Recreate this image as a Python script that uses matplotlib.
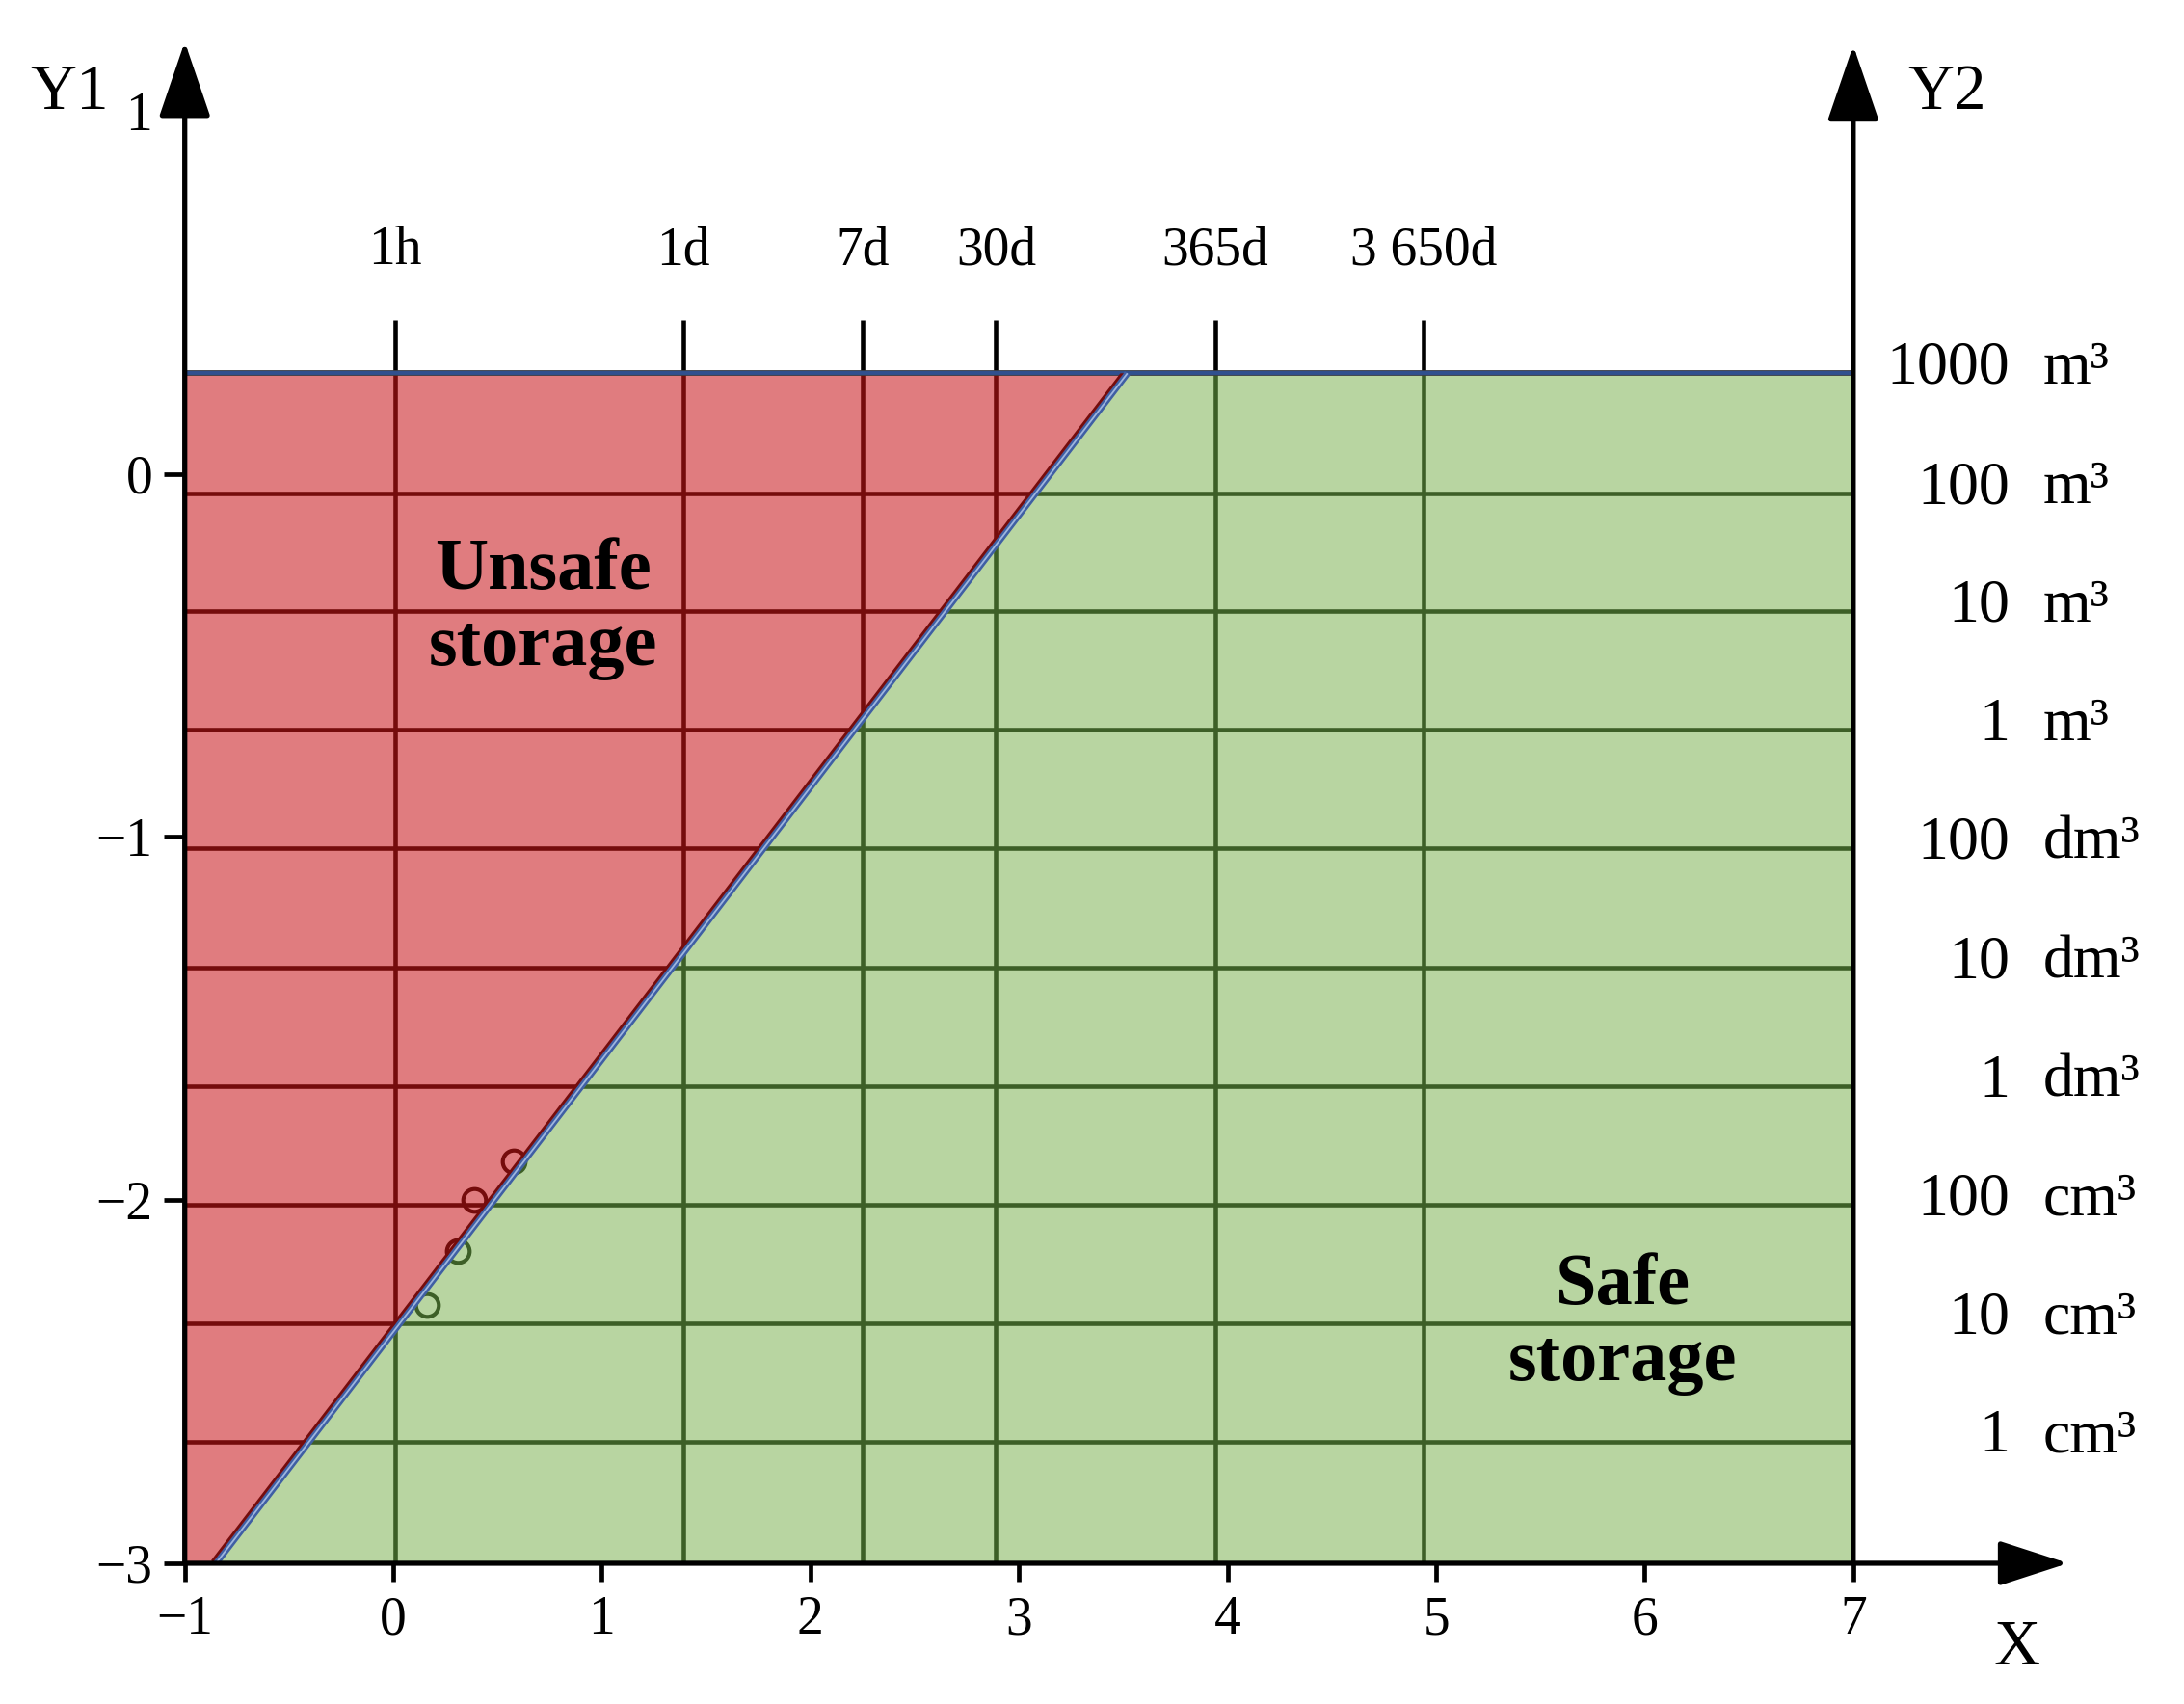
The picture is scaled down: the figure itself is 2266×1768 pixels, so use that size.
import matplotlib
matplotlib.use("Agg")
import matplotlib.pyplot as plt
from matplotlib.patches import Polygon, Rectangle
import matplotlib.transforms as mtransforms

plt.rcParams['font.family'] = ['Liberation Serif', 'DejaVu Serif']
plt.rcParams['axes.unicode_minus'] = True

# ---------------- data ----------------
x_ticks = [-1, 0, 1, 2, 3, 4, 5, 6, 7]
y_ticks = [-3, -2, -1, 0, 1]

time_labels = ["1h", "1d", "7d", "30d", "365d", "3 650d"]
time_x = [0.01, 1.39, 2.25, 2.89, 3.94, 4.94]

volume_numbers = ["1000", "100", "10", "1", "100", "10", "1", "100", "10", "1"]
volume_units = ["m³", "m³", "m³", "m³", "dm³", "dm³", "dm³", "cm³", "cm³", "cm³"]
volume_y = [0.277, -0.053, -0.379, -0.705, -1.031, -1.361, -1.687, -2.013, -2.339, -2.665]

region_x = [-1.0, 7.0]
region_y = [-3.0, 0.277]

boundary_x = [-0.85, 3.52]
boundary_y = [-3.0, 0.277]

sample_x = [0.163, 0.309, 0.386, 0.579]
sample_y = [-2.288, -2.140, -2.000, -1.892]

# ---------------- styles ----------------
RED_FILL = '#e07c7f'
GREEN_FILL = '#b8d5a1'
DARK_RED = '#750c0c'
DARK_GREEN = '#3d5f27'
BLUE = '#30508f'
GRID_LW = 3.3

fig = plt.figure(figsize=(22.66, 17.68), dpi=100)
ax = fig.add_axes([0.0846, 0.0826, 0.869, 0.8993])
ax.set_xlim(-1, 8.1)
ax.set_ylim(-3, 1.22)
for s in ax.spines.values():
    s.set_visible(False)

x0, x1 = region_x
yb, yt = region_y
bx0, bx1 = boundary_x

red_poly = Polygon([(x0, yb), (bx0, yb), (bx1, yt), (x0, yt)], closed=True,
                   facecolor=RED_FILL, edgecolor='none', zorder=1)
green_poly = Polygon([(bx0, yb), (x1, yb), (x1, yt), (bx1, yt)], closed=True,
                     facecolor=GREEN_FILL, edgecolor='none', zorder=1)
ax.add_patch(red_poly)
ax.add_patch(green_poly)

# grid lines coloured by region
for poly, col in ((red_poly, DARK_RED), (green_poly, DARK_GREEN)):
    for y in volume_y[1:]:
        ln, = ax.plot([x0, x1], [y, y], color=col, lw=GRID_LW, zorder=2, solid_capstyle='butt')
        ln.set_clip_path(poly)
    for x in time_x:
        ln, = ax.plot([x, x], [yb, yt], color=col, lw=GRID_LW, zorder=2, solid_capstyle='butt')
        ln.set_clip_path(poly)
    pts, = ax.plot(sample_x, sample_y, 'o', mfc='none', mec=col, ms=17, mew=3.0, zorder=3)
    pts.set_clip_path(poly)

# vertical line extensions above the region
for x in time_x:
    ax.plot([x, x], [yt, 0.423], color='black', lw=GRID_LW, zorder=2, solid_capstyle='butt')

# region border
ax.plot([x0, x1], [yt, yt], color='#3a3f4a', lw=4.2, zorder=4, solid_capstyle='butt')
ax.add_patch(Rectangle((x0, yb), x1 - x0, yt - yb, fill=False, edgecolor=BLUE, lw=2.8, zorder=4))

# boundary line (double line)
ax.plot(boundary_x, boundary_y, color='#3f5fa4', lw=5.0, zorder=5, solid_capstyle='butt')
ax.plot(boundary_x, boundary_y, color='#9fb6de', lw=1.3, zorder=6, solid_capstyle='butt')
off = mtransforms.offset_copy(ax.transData, fig=fig, x=-2.3, y=2.3, units='points')
dl, = ax.plot(boundary_x, boundary_y, color=DARK_RED, lw=2.0, zorder=5, transform=off)
dl.set_clip_path(red_poly)

# axes with arrows
arrow_v = dict(arrowstyle='-|>,head_length=0.82,head_width=0.28', mutation_scale=60,
               lw=3.8, color='black', shrinkA=0, shrinkB=0)
arrow_h = dict(arrowstyle='-|>,head_length=0.74,head_width=0.24', mutation_scale=60,
               lw=3.8, color='black', shrinkA=0, shrinkB=0)
ax.annotate('', xy=(x0, 1.19), xytext=(x0, yb), arrowprops=arrow_v, annotation_clip=False, zorder=7)
ax.annotate('', xy=(x1, 1.18), xytext=(x1, yb), arrowprops=arrow_v, annotation_clip=False, zorder=7)
ax.annotate('', xy=(8.03, yb), xytext=(x0, yb), arrowprops=arrow_h, annotation_clip=False, zorder=7)

# ticks
ax.set_xticks(x_ticks)
ax.set_yticks(y_ticks)
ax.tick_params(axis='both', direction='out', width=3.4, labelsize=40, colors='black')
ax.tick_params(axis='x', length=14, pad=10)
ax.tick_params(axis='y', length=16, pad=8)

# axis names
ax.text(-1.553, 1.05, "Y1", fontsize=48, ha='center', va='center', clip_on=False)
ax.text(7.449, 1.05, "Y2", fontsize=48, ha='center', va='center', clip_on=False)
ax.text(7.786, -3.234, "X", fontsize=48, ha='center', va='center', clip_on=False)

# time labels
for x, lab in zip(time_x, time_labels):
    ax.text(x, 0.614, lab, fontsize=40, ha='center', va='center', clip_on=False)

# volume labels
for y, num, unit in zip(volume_y, volume_numbers, volume_units):
    ax.text(7.75, y + 0.012, num, fontsize=46, ha='right', va='center', clip_on=False)
    ax.text(7.91, y + 0.012, unit, fontsize=46, ha='left', va='center', clip_on=False)

# region labels
ax.text(0.719, -0.372, "Unsafe\nstorage", fontsize=55, fontweight='bold',
        ha='center', va='center', zorder=8)
ax.text(5.894, -2.342, "Safe\nstorage", fontsize=55, fontweight='bold',
        ha='center', va='center', zorder=8)

fig.savefig("out.png", dpi=100, facecolor='white')
